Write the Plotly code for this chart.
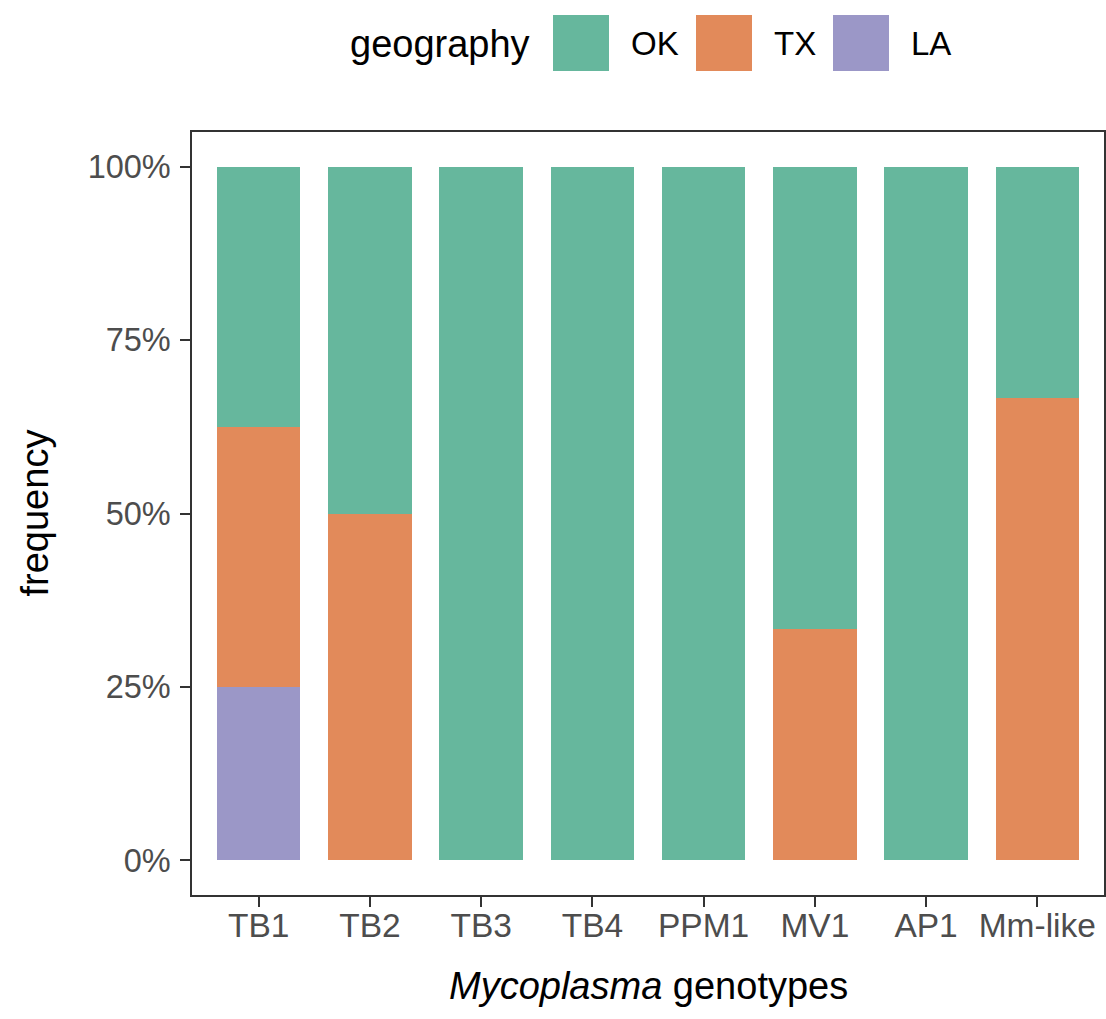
import plotly.graph_objects as go

# ---- data ----
genotypes = ["TB1", "TB2", "TB3", "TB4", "PPM1", "MV1", "AP1", "Mm-like"]
ok_frac = [0.375, 0.5, 1.0, 1.0, 1.0, 2/3, 1.0, 1/3]
tx_frac = [0.375, 0.5, 0.0, 0.0, 0.0, 1/3, 0.0, 2/3]
la_frac = [0.25, 0.0, 0.0, 0.0, 0.0, 0.0, 0.0, 0.0]
y_tickvals = [0, 0.25, 0.5, 0.75, 1.0]
y_ticktext = ["0%", "25%", "50%", "75%", "100%"]
legend_names = ["OK", "TX", "LA"]

COL = {"OK": "rgb(102,183,157)", "TX": "rgb(226,138,90)", "LA": "rgb(155,151,199)"}
FONT = "Liberation Sans, Arial, sans-serif"

W, H = 1106, 1019  # window size (body margin removed by post_script)
# panel edges in window pixels
P_L, P_R, P_T, P_B = 192, 1104, 132, 895
ML, MR, MT, MB = P_L, W - P_R, P_T, H - P_B
PW, PH = W - ML - MR, H - MT - MB

def px(x):  # window x -> paper
    return (x - P_L) / PW

def py(y):  # window y -> paper
    return (P_B - y) / PH

xs = list(range(len(genotypes)))
fig = go.Figure()
for name, vals in [("LA", la_frac), ("TX", tx_frac), ("OK", ok_frac)]:
    fig.add_trace(go.Bar(x=xs, y=vals, name=name, width=0.75,
                         marker=dict(color=COL[name], line=dict(width=0)),
                         showlegend=False))

axis_common = dict(showline=True, linecolor="#333333", linewidth=1.5, mirror=True,
                   ticks="outside", ticklen=10, tickwidth=2, tickcolor="#333333",
                   showgrid=False, zeroline=False, automargin=False)

fig.update_layout(
    width=W, height=H, barmode="stack", bargap=0,
    template="none",
    plot_bgcolor="white", paper_bgcolor="white",
    margin=dict(l=ML, r=MR, t=MT, b=MB, pad=0),
    font=dict(family=FONT),
    xaxis=dict(range=[-0.6, 7.6], tickvals=xs, ticktext=genotypes,
               ticklabelstandoff=-10,
               tickfont=dict(family=FONT, size=33.5, color="#4d4d4d"), **axis_common),
    yaxis=dict(range=[-0.05, 1.05], tickvals=y_tickvals, ticktext=y_ticktext,
               ticklabelstandoff=3,
               tickfont=dict(family=FONT, size=32.5, color="#4d4d4d"), **axis_common),
)

annotations = [
    dict(text="<i>Mycoplasma</i> genotypes", x=0.5, y=py(986), xref="paper", yref="paper",
         xanchor="center", yanchor="middle", showarrow=False,
         font=dict(family=FONT, size=38, color="black")),
    dict(text="frequency", x=px(34), y=0.5, xref="paper", yref="paper", textangle=-90,
         xanchor="center", yanchor="middle", showarrow=False,
         font=dict(family=FONT, size=38, color="black")),
    dict(text="geography", x=px(348), y=py(44), xref="paper", yref="paper",
         xanchor="left", yanchor="middle", showarrow=False,
         font=dict(family=FONT, size=38, color="black")),
]
shapes = []
key_left = [553, 696, 833]
for name, kx in zip(legend_names, key_left):
    shapes.append(dict(type="rect", xref="paper", yref="paper",
                       x0=px(kx), x1=px(kx + 56), y0=py(71), y1=py(15),
                       fillcolor=COL[name], line=dict(width=0)))
    annotations.append(dict(text=name, x=px(kx + 76), y=py(43), xref="paper", yref="paper",
                            xanchor="left", yanchor="middle", showarrow=False,
                            font=dict(family=FONT, size=33, color="black")))
fig.update_layout(annotations=annotations, shapes=shapes)

fig.write_html("out.html", config={"displayModeBar": False},
               post_script="document.body.style.margin='0px';document.body.style.overflow='hidden';")
